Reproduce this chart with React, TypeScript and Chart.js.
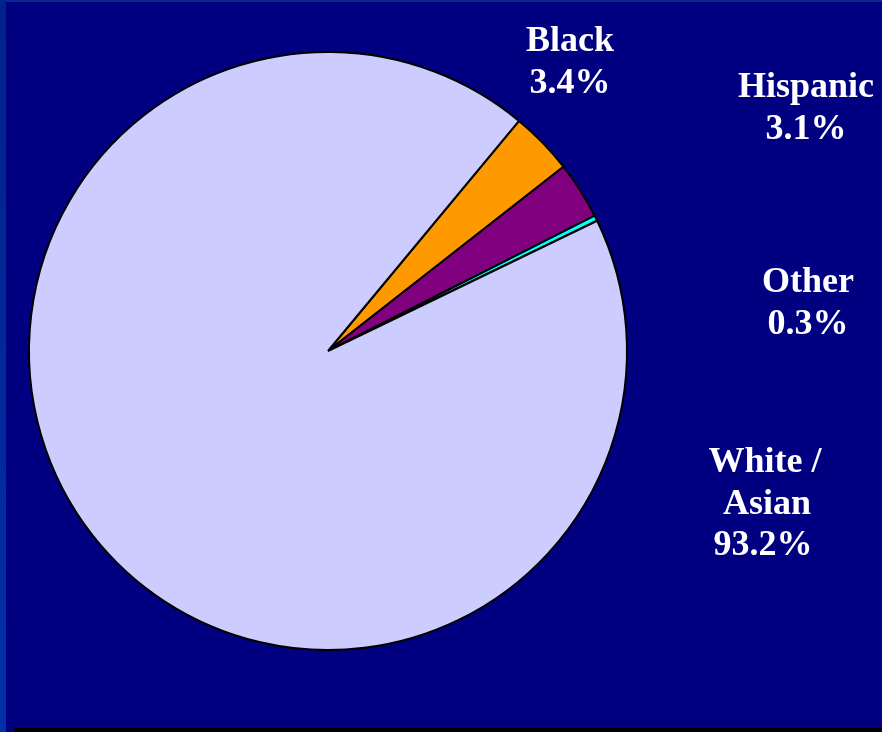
import React, { useEffect, useRef } from "react";
import { Chart, registerables } from "chart.js";

Chart.register(...registerables);

const categories = ["Black", "Hispanic", "Other", "White / Asian"];
const values = [3.4, 3.1, 0.3, 93.2];
const sliceColors = ["#FF9900", "#800080", "#00FFFF", "#CCCCFF"];
const labelLines = [["Black", "3.4%"], ["Hispanic", "3.1%"], ["Other", "0.3%"], ["White /", "Asian", "93.2%"]];
// label anchor positions (centre x per line, first baseline y)
const labelPos = [
  { x: [570, 570], y: 51 },
  { x: [806, 806], y: 97 },
  { x: [808, 808], y: 292 },
  { x: [765, 767, 763], y: 472 },
];

const labelPlugin = {
  id: "outsideLabels",
  afterDraw(chart: any) {
    const ctx = chart.ctx;
    ctx.save();
    ctx.fillStyle = "#FFFFFF";
    ctx.font = "bold 36px 'Liberation Serif', 'Times New Roman', serif";
    ctx.textAlign = "center";
    ctx.textBaseline = "alphabetic";
    labelLines.forEach((lines, i) => {
      const p = labelPos[i];
      lines.forEach((t, j) => {
        ctx.fillText(t, p.x[j], p.y + j * 41.5);
      });
    });
    ctx.restore();
  },
};

export default function App() {
  const ref = useRef<HTMLCanvasElement>(null);
  useEffect(() => {
    document.body.style.margin = "0";
    const chart = new Chart(ref.current!, {
      type: "pie",
      data: {
        labels: categories,
        datasets: [
          {
            data: values,
            backgroundColor: sliceColors,
            borderColor: "#000000",
            borderWidth: 2,
          },
        ],
      },
      options: {
        animation: false,
        responsive: false,
        rotation: 39.7,
        layout: { padding: { left: 28, top: 51, right: 254, bottom: 81 } },
        plugins: {
          legend: { display: false },
          tooltip: { enabled: false },
        },
      },
      plugins: [labelPlugin],
    });
    return () => chart.destroy();
  }, []);
  return (
    <div
      style={{
        position: "fixed",
        left: 0,
        top: 0,
        width: 882,
        height: 732,
        background: "#000080",
        overflow: "hidden",
      }}
    >
      <div style={{ position: "absolute", left: 0, top: 0, width: 882, height: 2, background: "#0A2A90" }} />
      <div
        style={{
          position: "absolute",
          left: 0,
          top: 0,
          width: 6,
          height: 732,
          background: "linear-gradient(#00228A, #0030A8)",
        }}
      />
      <div style={{ position: "absolute", left: 14, top: 728, width: 868, height: 4, background: "#000000" }} />
      <canvas ref={ref} width={882} height={732} style={{ position: "absolute", left: 0, top: 0 }} />
    </div>
  );
}
